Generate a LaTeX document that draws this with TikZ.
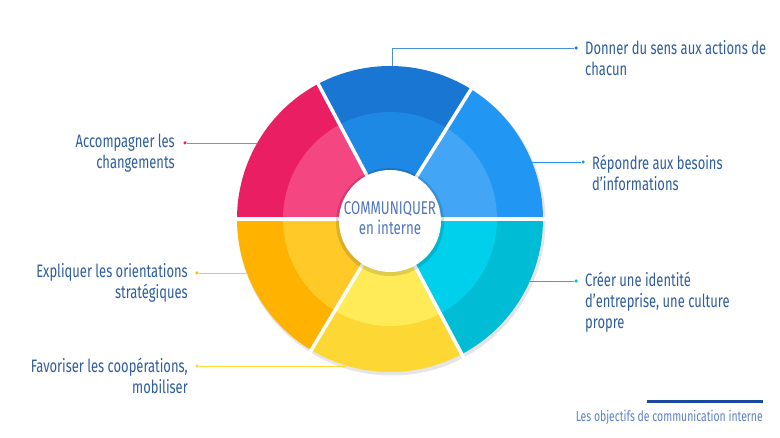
\documentclass[tikz,border=0pt]{standalone}
\usepackage{fontspec}
\setmainfont{Fira Sans}[FakeStretch=0.72]
\usetikzlibrary{calc}
\definecolor{txt}{HTML}{2E5E9F}
\definecolor{hubtxt}{HTML}{4F77BD}
\definecolor{captxt}{HTML}{5B82C9}
\definecolor{barblue}{HTML}{1A47A0}
\definecolor{aO}{HTML}{1976D2}\definecolor{aI}{HTML}{1E88E5}
\definecolor{bO}{HTML}{2196F3}\definecolor{bI}{HTML}{42A5F5}
\definecolor{cO}{HTML}{00BCD4}\definecolor{cI}{HTML}{00D0EC}
\definecolor{dO}{HTML}{FDD835}\definecolor{dI}{HTML}{FFEB57}
\definecolor{eO}{HTML}{FFB300}\definecolor{eI}{HTML}{FFCA28}
\definecolor{fO}{HTML}{E91E63}\definecolor{fI}{HTML}{F44680}
\definecolor{fL}{HTML}{F06292}
\newcommand\wheelseg[4]{%
  \fill[#3] (#1:153) arc[start angle=#1, end angle=#2, radius=153] -- (#2:48) arc[start angle=#2, end angle=#1, radius=48] -- cycle;
  \fill[#4] (#1:107) arc[start angle=#1, end angle=#2, radius=107] -- (#2:48) arc[start angle=#2, end angle=#1, radius=48] -- cycle;}
\begin{document}
\begin{tikzpicture}[x=1pt,y=-1pt,
  lbl/.style={font=\fontsize{18}{21}\selectfont, text=txt, inner sep=0pt},
  hubf/.style={font=\fontsize{18.5}{20}\selectfont, text=hubtxt, anchor=base, inner sep=0pt},
  dotn/.style={circle, inner sep=0pt, minimum size=3.5pt},
  conn/.style={line width=0.9pt}]
\useasboundingbox[fill=white] (0,0) rectangle (780,438);
% wheel
\begin{scope}[shift={(390,219)}, yscale=-1]
  \fill[black, opacity=0.10] (1.5,-2.5) circle[radius=154];
  \wheelseg{58}{118}{aO}{aI}
  \wheelseg{0}{58}{bO}{bI}
  \wheelseg{-62}{0}{cO}{cI}
  \wheelseg{-121}{-62}{dO}{dI}
  \wheelseg{-180}{-121}{eO}{eI}
  \wheelseg{118}{180}{fO}{fI}
  \foreach \a in {0,58,118,180,-62,-121} \draw[white, line width=3.5pt] (0,0) -- (\a:157);
  \fill[black, opacity=0.13] (0,-3) circle[radius=54];
  \node[circle, fill=white, minimum size=102pt, inner sep=0pt] (hub) at (0,-2) {};
\end{scope}
\node[hubf] (hubt1) at (390,214.5) {COMMUNIQUER};
\node[hubf] (hubt2) at (390,235) {en interne};
% edge points
\coordinate (e1) at (392,66);
\coordinate (e2) at (532,162);
\coordinate (e3) at (530,281);
\coordinate (e4) at (346,366);
\coordinate (e5) at (247,273);
\coordinate (e6) at (257,143);
% dots
\node[dotn, fill=aO] (d1) at (576,48) {};
\node[dotn, fill=bO] (d2) at (583,162) {};
\node[dotn, fill=cO] (d3) at (576,281) {};
\node[dotn, fill=dO] (d4) at (197,366) {};
\node[dotn, fill=eO!80!dO] (d5) at (197,273) {};
\node[dotn, fill=fO] (d6) at (185,143) {};
% connectors
\draw[conn, aO!80] (e1) |- (d1);
\draw[conn, bO] (e2) -- (d2);
\draw[conn, cO] (e3) -- (d3);
\draw[conn, dO] (e4) -- (d4);
\draw[conn, eI] (e5) -- (d5);
\draw[conn, fL] (e6) -- (d6);
% labels
\node[lbl, anchor=west, align=left] (l1) at (585,58.5) {Donner du sens aux actions de\\chacun};
\node[lbl, anchor=west, align=left] (l2) at (592,172.5) {Répondre aux besoins\\d’informations};
\node[lbl, anchor=west, align=left] (l3) at (585,302) {Créer une identité\\d’entreprise, une culture\\propre};
\node[lbl, anchor=east, align=right] (l4) at (188,375.5) {Favoriser les coopérations,\\mobiliser};
\node[lbl, anchor=east, align=right] (l5) at (188,283) {Expliquer les orientations\\stratégiques};
\node[lbl, anchor=east, align=right] (l6) at (175,153) {Accompagner les\\changements};
% caption
\coordinate (b1) at (647,402);
\coordinate (b2) at (763,402);
\draw[barblue, line width=3pt] (b1) -- (b2);
\node[font=\fontsize{14.5}{16}\selectfont, text=captxt, anchor=east, inner sep=0pt] (cap) at (763,417) {Les objectifs de communication interne};
\end{tikzpicture}
\end{document}
